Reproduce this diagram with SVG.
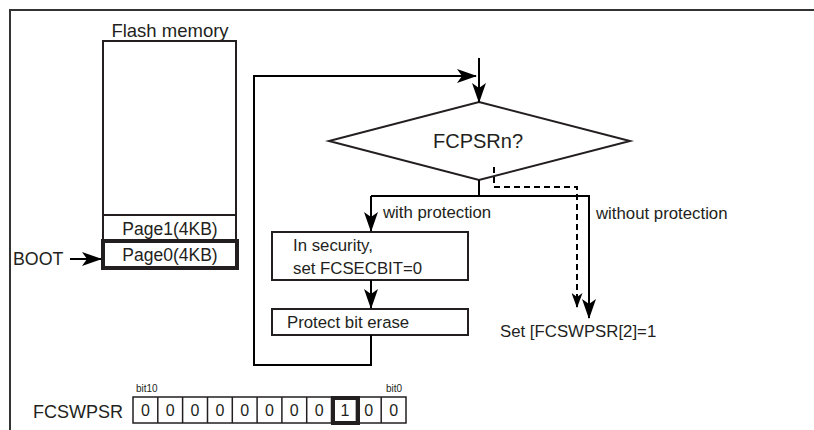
<svg xmlns="http://www.w3.org/2000/svg" width="814" height="430" viewBox="0 0 814 430">
<style>
text{font-family:"Liberation Sans",Arial,sans-serif;fill:#231f20}
.ln{fill:none;stroke:#000;stroke-width:2}
.bx{fill:#fff;stroke:#231f20;stroke-width:2}
.th{fill:#fff;stroke:#231f20;stroke-width:4}
.ds{fill:none;stroke:#000;stroke-width:2;stroke-dasharray:6,4}
.c{font-size:17.5px;text-anchor:middle}
.lb{font-size:16.8px}
</style>
<defs>
<marker id="ah" markerWidth="20" markerHeight="14" refX="19" refY="7" orient="auto" markerUnits="userSpaceOnUse"><path d="M0,0 L20,7 L0,14 L5,7 Z" fill="#000"/></marker>
<marker id="ahs" markerWidth="15" markerHeight="11" refX="14" refY="5.5" orient="auto" markerUnits="userSpaceOnUse"><path d="M0,0 L15,5.5 L0,11 L4,5.5 Z" fill="#000"/></marker>
</defs>
<rect width="814" height="430" fill="#fff"/>
<g id="frame"><path d="M10,430 V10 H814" fill="none" stroke="#333" stroke-width="2"/></g>

<g id="flash">
<text x="170" y="37" font-size="18.5" text-anchor="middle">Flash memory</text>
<rect x="103" y="41" width="133" height="227" class="bx"/>
<line x1="103" y1="215" x2="236" y2="215" stroke="#231f20" stroke-width="2"/>
<text x="170" y="235" class="c">Page1(4KB)</text>
</g>
<g id="page0">
<rect x="103" y="241" width="134" height="27" class="th"/>
<text x="170" y="261" class="c">Page0(4KB)</text>
</g>
<g id="boot"><text x="13" y="265" font-size="17.8">BOOT</text></g>

<g id="decision">
<polygon points="479,102 630,141 479,180 329,141" class="bx"/>
<text x="478" y="148" font-size="20" text-anchor="middle">FCPSRn?</text>
</g>
<g id="security">
<rect x="272" y="232" width="196" height="48" class="bx"/>
<text x="293" y="251" class="lb">In security,</text>
<text x="293" y="274" class="lb">set FCSECBIT=0</text>
</g>
<g id="setbit"><text x="500" y="337" class="lb">Set [FCSWPSR[2]=1</text></g>
<g id="erase">
<rect x="272" y="309" width="196" height="26" class="bx"/>
<text x="287" y="328" class="lb">Protect bit erase</text>
</g>

<g id="connectors">
<line x1="70" y1="259" x2="101" y2="259" class="ln" marker-end="url(#ah)"/>
<line x1="479" y1="58" x2="479" y2="102" class="ln" marker-end="url(#ah)"/>
<polyline points="371,335 371,365 254,365 254,76 476,76" class="ln" marker-end="url(#ah)"/>
<line x1="479" y1="180" x2="479" y2="196" class="ln"/>
<polyline points="371,196 589,196 589,318" class="ln" marker-end="url(#ah)"/>
<line x1="371" y1="196" x2="371" y2="231" class="ln" marker-end="url(#ah)"/>
<polyline points="494,167 494,187 577,187 577,307" class="ds" marker-end="url(#ahs)"/>
<line x1="371" y1="280" x2="371" y2="308" class="ln" marker-end="url(#ah)"/>
<text x="383" y="218" class="lb">with protection</text>
<text x="596" y="219" class="lb">without protection</text>
</g>

<g id="register">
<text x="33" y="418" font-size="18">FCSWPSR</text>
<text x="136" y="392" font-size="10">bit10</text>
<text x="386" y="392" font-size="10">bit0</text>
<rect x="133" y="397" width="273" height="26" fill="#fff" stroke="#231f20" stroke-width="1.5"/>
<g stroke="#231f20" stroke-width="1.5">
<line x1="157.8" y1="397" x2="157.8" y2="423"/>
<line x1="182.6" y1="397" x2="182.6" y2="423"/>
<line x1="207.5" y1="397" x2="207.5" y2="423"/>
<line x1="232.3" y1="397" x2="232.3" y2="423"/>
<line x1="257.1" y1="397" x2="257.1" y2="423"/>
<line x1="281.9" y1="397" x2="281.9" y2="423"/>
<line x1="306.7" y1="397" x2="306.7" y2="423"/>
<line x1="331.5" y1="397" x2="331.5" y2="423"/>
<line x1="356.4" y1="397" x2="356.4" y2="423"/>
<line x1="381.2" y1="397" x2="381.2" y2="423"/>
</g>
<rect x="333" y="398" width="25" height="25" fill="none" stroke="#231f20" stroke-width="4"/>
<g font-size="16" text-anchor="middle">
<text x="145.4" y="416">0</text><text x="170.2" y="416">0</text><text x="195" y="416">0</text><text x="219.9" y="416">0</text><text x="244.7" y="416">0</text><text x="269.5" y="416">0</text><text x="294.3" y="416">0</text><text x="319.1" y="416">0</text><text x="345" y="416">1</text><text x="368.8" y="416">0</text><text x="393.6" y="416">0</text>
</g>
</g>
</svg>
